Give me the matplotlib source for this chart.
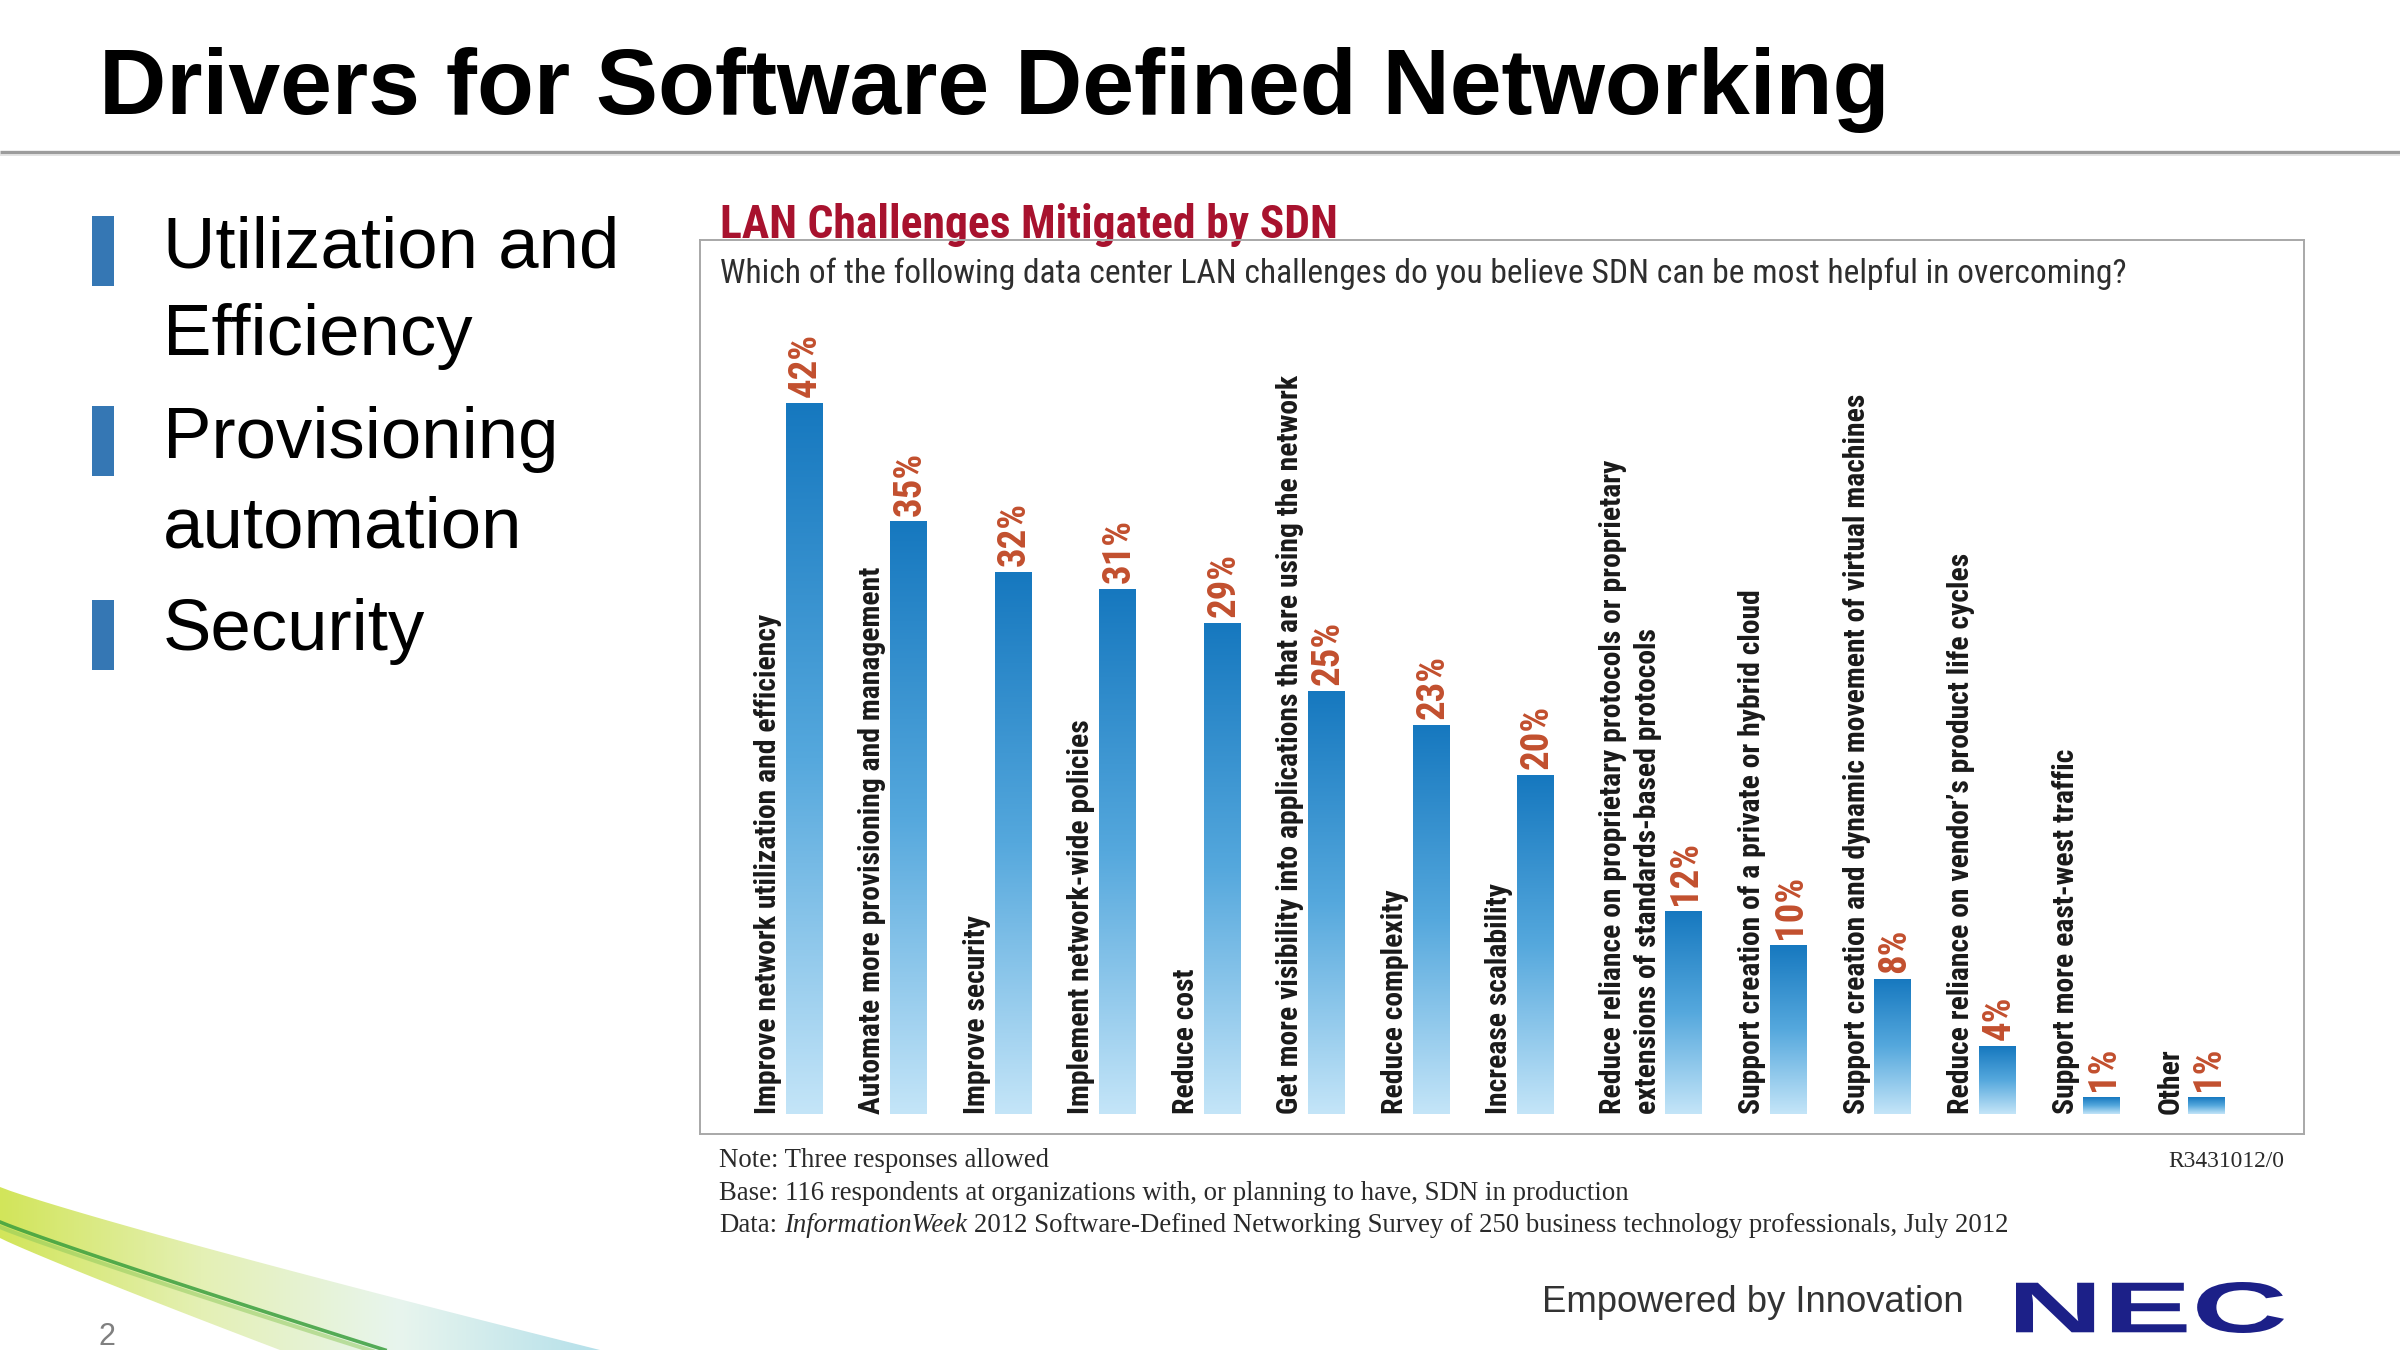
import numpy as np
import matplotlib
matplotlib.use("Agg")
import matplotlib.pyplot as plt
from matplotlib.colors import LinearSegmentedColormap
from matplotlib.textpath import TextPath
from matplotlib.patches import PathPatch, Rectangle, Polygon
from matplotlib.font_manager import FontProperties
from matplotlib.transforms import Affine2D

# ---------------- data ----------------
categories = [
    "Improve network utilization and efficiency",
    "Automate more provisioning and management",
    "Improve security",
    "Implement network-wide policies",
    "Reduce cost",
    "Get more visibility into applications that are using the network",
    "Reduce complexity",
    "Increase scalability",
    "Reduce reliance on proprietary protocols or proprietary\nextensions of standards-based protocols",
    "Support creation of a private or hybrid cloud",
    "Support creation and dynamic movement of virtual machines",
    "Reduce reliance on vendor\u2019s product life cycles",
    "Support more east-west traffic",
    "Other",
]
values = [42, 35, 32, 31, 29, 25, 23, 20, 12, 10, 8, 4, 1, 1]

slide_title = "Drivers for Software Defined Networking"
bullet_items = [["Utilization and", "Efficiency"], ["Provisioning", "automation"], ["Security"]]
chart_title = "LAN Challenges Mitigated by SDN"
chart_question = ("Which of the following data center LAN challenges do you believe SDN "
                  "can be most helpful in overcoming?")
note_line = "Note: Three responses allowed"
base_line = "Base: 116 respondents at organizations with, or planning to have, SDN in production"
data_parts = [("Data: ", "normal"), ("InformationWeek", "italic"),
              (" 2012 Software-Defined Networking Survey of 250 business technology professionals, July 2012", "normal")]
report_id = "R3431012/0"
tagline = "Empowered by Innovation"
logo = "NEC"
page_no = "2"

# ---------------- style ----------------
SANS = ["Liberation Sans", "DejaVu Sans"]
NARROW = ["Liberation Sans Narrow", "Roboto Condensed", "DejaVu Sans"]
SERIF = ["Liberation Serif", "DejaVu Serif"]

W, H = 2400, 1350
fig = plt.figure(figsize=(24, 13.5), dpi=100, facecolor="white")
bg = fig.add_axes([0, 0, 1, 1], zorder=0)
bg.set_axis_off()
renderer = fig.canvas.get_renderer()


def fit(t, target, dim="w"):
    bb = t.get_window_extent(renderer)
    cur = bb.width if dim == "w" else bb.height
    t.set_fontsize(t.get_fontsize() * target / cur)
    return t.get_fontsize()


def reset_bg():
    bg.set_xlim(0, W)
    bg.set_ylim(H, 0)
    bg.set_aspect("auto")


reset_bg()

# ---- slide header ----
t = bg.text(99, 114, slide_title, fontsize=67, weight="bold", family=SANS,
            ha="left", va="baseline", color="black")
fit(t, 1790)
bg.plot([0, W], [152, 152], color="#9c9c9c", lw=2.4, solid_capstyle="butt")
bg.plot([0, W], [155, 155], color="#dedede", lw=1.2, solid_capstyle="butt")

# ---- bullets ----
bullet_tops = [216, 406, 600]
line_baselines = [[268, 355], [458, 547], [650]]
size = None
for top, lines, bls in zip(bullet_tops, bullet_items, line_baselines):
    bg.add_patch(Rectangle((92, top), 22, 70, color="#3577b4", lw=0))
    for ln, yb in zip(lines, bls):
        tt = bg.text(163, yb, ln, fontsize=50 if size is None else size, family=SANS,
                     ha="left", va="baseline", color="black")
        if size is None:
            size = fit(tt, 456)

# ---- chart titles ----
t = bg.text(720, 238, chart_title, fontsize=34, weight="bold", family=NARROW,
            color="#a8122e", ha="left", va="baseline", zorder=5)
fit(t, 618)
t = bg.text(720, 283, chart_question, fontsize=20, family=NARROW,
            color="#2e2e2e", ha="left", va="baseline", zorder=5)
fit(t, 1403)

# ---- chart axes (box) ----
BOX_L, BOX_R, BOX_T, BOX_B = 700, 2304, 240, 1134
ax = fig.add_axes([BOX_L / W, 1 - BOX_B / H, (BOX_R - BOX_L) / W, (BOX_B - BOX_T) / H], zorder=2)
ax.set_facecolor("none")
for s in ax.spines.values():
    s.set_color("#a8a8a8")
    s.set_linewidth(1.4)
ax.set_xticks([])
ax.set_yticks([])

PX_X = 104.5        # pixels per category slot
PX_Y = 16.93        # pixels per percentage point
X0_PX, BASE_PX = 803.6, 1114
xlim = (-(X0_PX - BOX_L) / PX_X, (BOX_R - X0_PX) / PX_X)
ylim = (-(BOX_B - BASE_PX) / PX_Y, (BASE_PX - BOX_T) / PX_Y)

gaps = [1 + 0.42 * c.count("\n") for c in categories[1:]]
pos = np.concatenate([[0.0], np.cumsum(gaps)])
BW = 0.345

cmap = LinearSegmentedColormap.from_list("bar", ["#c4e5f8", "#55a8dd", "#1678bf"])
grad = np.linspace(0, 1, 256).reshape(-1, 1)
bars = ax.bar(pos, values, width=BW, color="none", edgecolor="none", zorder=2)
for b in bars:
    im = ax.imshow(grad, extent=[b.get_x(), b.get_x() + b.get_width(), 0, b.get_height()],
                   origin="lower", aspect="auto", cmap=cmap, zorder=2, interpolation="bicubic")
    im.set_clip_path(b)

# category labels
lab_size = None
for p, c in zip(pos, categories):
    tt = ax.text(p - BW / 2 - 0.035, 0, c, rotation=90, rotation_mode="anchor",
                 ha="left", va="bottom", family=NARROW, color="#1a1a1a", weight="bold",
                 fontsize=19 if lab_size is None else lab_size, linespacing=1.3)
    if lab_size is None:
        lab_size = fit(tt, 500, "h")

# value labels
val_size = None
for p, v in zip(pos, values):
    tt = ax.text(p + 0.02, v + 0.35, f"{v}%", rotation=90, rotation_mode="anchor",
                 ha="left", va="center", family=NARROW, weight="bold", color="#c24f2e",
                 fontsize=18 if val_size is None else val_size)
    if val_size is None:
        val_size = fit(tt, 64, "h")

ax.set_xlim(*xlim)
ax.set_ylim(*ylim)

# ---- notes ----
t = bg.text(719, 1232, "".join(p for p, _ in data_parts), fontsize=20, family=SERIF,
            ha="left", va="baseline")
serif_size = fit(t, 1291)
t.remove()
bg.text(719, 1167, note_line, fontsize=serif_size, family=SERIF, color="#2a2a2a",
        ha="left", va="baseline")
bg.text(719, 1200, base_line, fontsize=serif_size, family=SERIF, color="#2a2a2a",
        ha="left", va="baseline")
x = 719.0
for txt, style in data_parts:
    core = txt.strip(" ")
    lead = len(txt) - len(txt.lstrip(" "))
    trail = len(txt) - len(txt.rstrip(" "))
    probe_a = bg.text(0, 0, "a a", fontsize=serif_size, family=SERIF, style=style)
    probe_b = bg.text(0, 0, "aa", fontsize=serif_size, family=SERIF, style=style)
    sp = probe_a.get_window_extent(renderer).width - probe_b.get_window_extent(renderer).width
    probe_a.remove()
    probe_b.remove()
    x += lead * sp
    tt = bg.text(x, 1232, core, fontsize=serif_size, family=SERIF, style=style,
                 color="#2a2a2a", ha="left", va="baseline")
    x = tt.get_window_extent(renderer).x1 + trail * sp
t = bg.text(2284, 1167, report_id, fontsize=14, family=SERIF, color="#2a2a2a",
            ha="right", va="baseline")
fit(t, 117)

# ---- footer ----
t = bg.text(1542, 1312, tagline, fontsize=22, family=SANS, color="#333333",
            ha="left", va="baseline")
fit(t, 421)
tp = TextPath((0, 0), logo, size=100, prop=FontProperties(family=SANS, weight="bold"))
ext = tp.get_extents()
tr = (Affine2D().translate(-ext.x0, -ext.y0).scale(268 / ext.width, -51 / ext.height)
      .translate(2016, 1333) + bg.transData)
bg.add_patch(PathPatch(tp, transform=tr, facecolor="#1c2088", edgecolor="none"))

bg.text(107, 1345, page_no, fontsize=22, family=SANS, color="#808080",
        ha="center", va="baseline")

# ---- decorative swoosh (bottom-left) ----
xs_u = np.linspace(0, 600, 60)
ys_u = 1187 + 163 * (xs_u / 600) ** 0.92
xs_l = np.linspace(280, 0, 40)
ys_l = 1238 + 112 * (xs_l / 280) ** 0.95
poly = Polygon(np.column_stack([np.concatenate([xs_u, [600, 280], xs_l]),
                                np.concatenate([ys_u, [1350, 1350], ys_l])]),
               closed=True, facecolor="none", edgecolor="none")
bg.add_patch(poly)
sw_cmap = LinearSegmentedColormap.from_list("sw", ["#d2e55a", "#e4f0b4", "#e8f5ee", "#b5e0ea"])
im = bg.imshow(np.linspace(0, 1, 256).reshape(1, -1), extent=[0, 600, 1350, 1180],
               cmap=sw_cmap, aspect="auto", zorder=1, interpolation="bicubic")
im.set_clip_path(poly)
xs_d = np.linspace(0, 385, 50)
ys_d = 1222 + 128 * (xs_d / 385) ** 0.95
bg.plot(xs_d, ys_d, color="#3a9f3e", lw=2.6, alpha=0.85, zorder=2)
bg.plot(xs_d, ys_d + 5, color="#8cc85a", lw=3, alpha=0.5, zorder=2)
reset_bg()

fig.savefig("out.png", dpi=100, facecolor="white")
